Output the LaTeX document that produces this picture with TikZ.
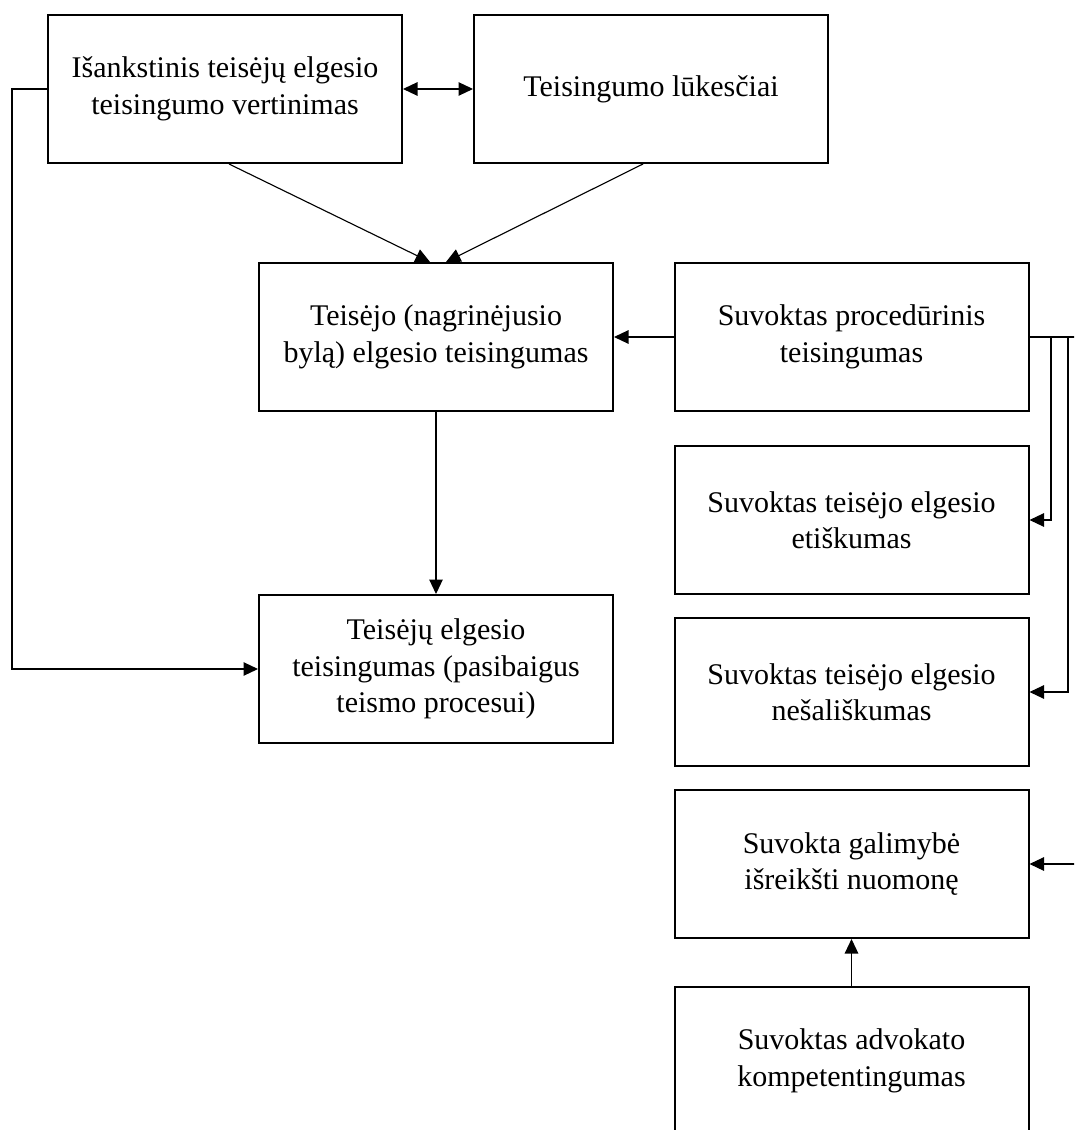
\documentclass[tikz,border=0pt]{standalone}
\usepackage{fontspec}
\setmainfont{Liberation Serif}
\usetikzlibrary{arrows.meta}

\begin{document}
\begin{tikzpicture}[x=0.4pt,y=-0.4pt,>={Triangle[length=5.8pt,width=5.4pt]}]

\tikzstyle{box}=[draw, line width=0.8pt, minimum width=141.6pt, minimum height=59.2pt,
  inner sep=0pt, align=center, font=\fontsize{12}{14.6}\selectfont]
\tikzstyle{link}=[line width=0.45pt, ->]

\clip (0,0) rectangle (1074,1130);

% left column
\node[box] (prior) at (225,89) {Išankstinis teisėjų elgesio\\teisingumo vertinimas};
\node[box] (expect) at (651,89) {Teisingumo lūkesčiai};
\node[box] (judge) at (436,337) {Teisėjo (nagrinėjusio\\bylą) elgesio teisingumas};
\node[box] (final) at (436,669) {Teisėjų elgesio\\teisingumas (pasibaigus\\teismo procesui)};

% right column
\node[box] (proc) at (851.5,337) {Suvoktas procedūrinis\\teisingumas};
\node[box] (ethic) at (851.5,520) {Suvoktas teisėjo elgesio\\etiškumas};
\node[box] (impart) at (851.5,692) {Suvoktas teisėjo elgesio\\nešališkumas};
\node[box] (voice) at (851.5,864) {Suvokta galimybė\\išreikšti nuomonę};
\node[box] (lawyer) at (851.5,1061) {Suvoktas advokato\\kompetentingumas};

\coordinate (loop) at (12,0);
\coordinate (r1) at (1051,0);
\coordinate (r2) at (1068,0);
\coordinate (r3) at (1095,0);

\draw[link,<->] (prior) -- (expect);
\draw[link] ([xshift=1.6pt]prior.south) -- ([xshift=-2.4pt]judge.north);
\draw[link] ([xshift=-3.2pt]expect.south) -- ([xshift=4pt]judge.north);
\draw[link] (judge) -- (final);
\draw[link] (proc) -- (judge);
\draw[link] (prior.west) -| (loop |- final) -- (final.west);

\draw[link] (proc.east) -| (r1 |- ethic) -- (ethic.east);
\draw[link] (proc.east) -| (r2 |- impart) -- (impart.east);
\draw[link] (proc.east) -| (r3 |- voice) -- (voice.east);
\draw[link] (lawyer) -- (voice);

\end{tikzpicture}
\end{document}
